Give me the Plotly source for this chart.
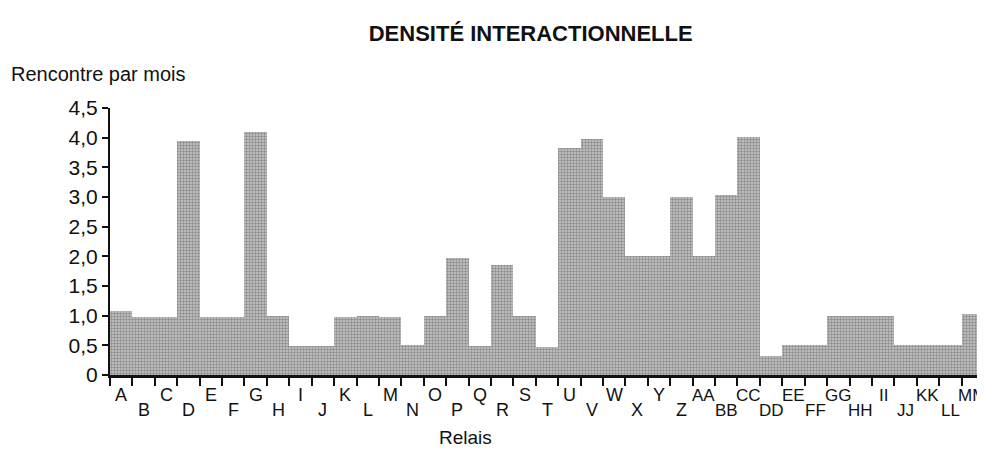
import plotly.graph_objects as go

categories = ["A", "B", "C", "D", "E", "F", "G", "H", "I", "J", "K", "L", "M",
              "N", "O", "P", "Q", "R", "S", "T", "U", "V", "W", "X", "Y", "Z",
              "AA", "BB", "CC", "DD", "EE", "FF", "GG", "HH", "II", "JJ", "KK", "LL", "MM"]
values = [1.08, 0.97, 0.98, 3.95, 0.98, 0.97, 4.1, 0.99, 0.49, 0.49, 0.98, 1.0, 0.98,
          0.5, 1.0, 1.97, 0.49, 1.85, 1.0, 0.47, 3.82, 3.98, 3.0, 2.0, 2.0, 3.0,
          2.0, 3.03, 4.01, 0.32, 0.5, 0.5, 1.0, 1.0, 1.0, 0.5, 0.5, 0.5, 1.03]
y_tickvals = [0, 0.5, 1.0, 1.5, 2.0, 2.5, 3.0, 3.5, 4.0, 4.5]
y_ticktext = ["0", "0,5", "1,0", "1,5", "2,0", "2,5", "3,0", "3,5", "4,0", "4,5"]

title_text = "DENSITÉ INTERACTIONNELLE"
y_title = "Rencontre par mois"
x_title = "Relais"

FONT = "Liberation Sans, Arial, sans-serif"

fig = go.Figure(go.Bar(
    x=categories, y=values,
    marker=dict(color="#a8a8a8", line=dict(width=0),
                pattern=dict(shape=".", size=3, solidity=0.5,
                             fgcolor="#505050", bgcolor="#c8c8c8")),
))

annotations = []
n = len(categories)
for i, c in enumerate(categories):
    high = (i % 2 == 0)
    annotations.append(dict(x=c, y=0, xref="x", yref="paper", text=c, showarrow=False,
                            yanchor="middle", yshift=-20 if high else -35,
                            xshift=-1 if i == n - 1 else 0,
                            font=dict(family=FONT, size=18 if len(c) == 1 else 17, color="#111")))
annotations.append(dict(x=0, y=1, xref="paper", yref="paper", text=y_title, showarrow=False,
                        xanchor="left", yanchor="middle", xshift=-101, yshift=34,
                        font=dict(family=FONT, size=20, color="#111")))
annotations.append(dict(x=0.407, y=0, xref="paper", yref="paper", text=x_title, showarrow=False,
                        xanchor="center", yanchor="middle", yshift=-62,
                        font=dict(family=FONT, size=19, color="#111")))

fig.update_layout(
    width=977, height=443,
    margin=dict(l=102, r=1, t=100, b=76),
    paper_bgcolor="white", plot_bgcolor="white",
    bargap=0, showlegend=False,
    font=dict(family=FONT, size=21, color="#111"),
    title=dict(text="<b>" + title_text + "</b>", x=0.535, xanchor="center",
               xref="container", yref="container", y=0.944, yanchor="middle",
               font=dict(family=FONT, size=22, color="#111")),
    xaxis=dict(type="category", tickson="boundaries", ticks="outside", ticklen=8, tickwidth=2,
               tickcolor="#111", showticklabels=False, showline=True, linewidth=3, linecolor="#111",
               showgrid=False, zeroline=False, range=[-0.5, n - 0.5]),
    yaxis=dict(range=[0, 4.5], tickvals=y_tickvals, ticktext=y_ticktext, ticks="outside",
               ticklen=6, tickwidth=2, tickcolor="#111", showline=True, linewidth=2,
               linecolor="#111", showgrid=False, zeroline=False,
               tickfont=dict(family=FONT, size=21, color="#111")),
    annotations=annotations,
)
fig.write_html("out.html")
